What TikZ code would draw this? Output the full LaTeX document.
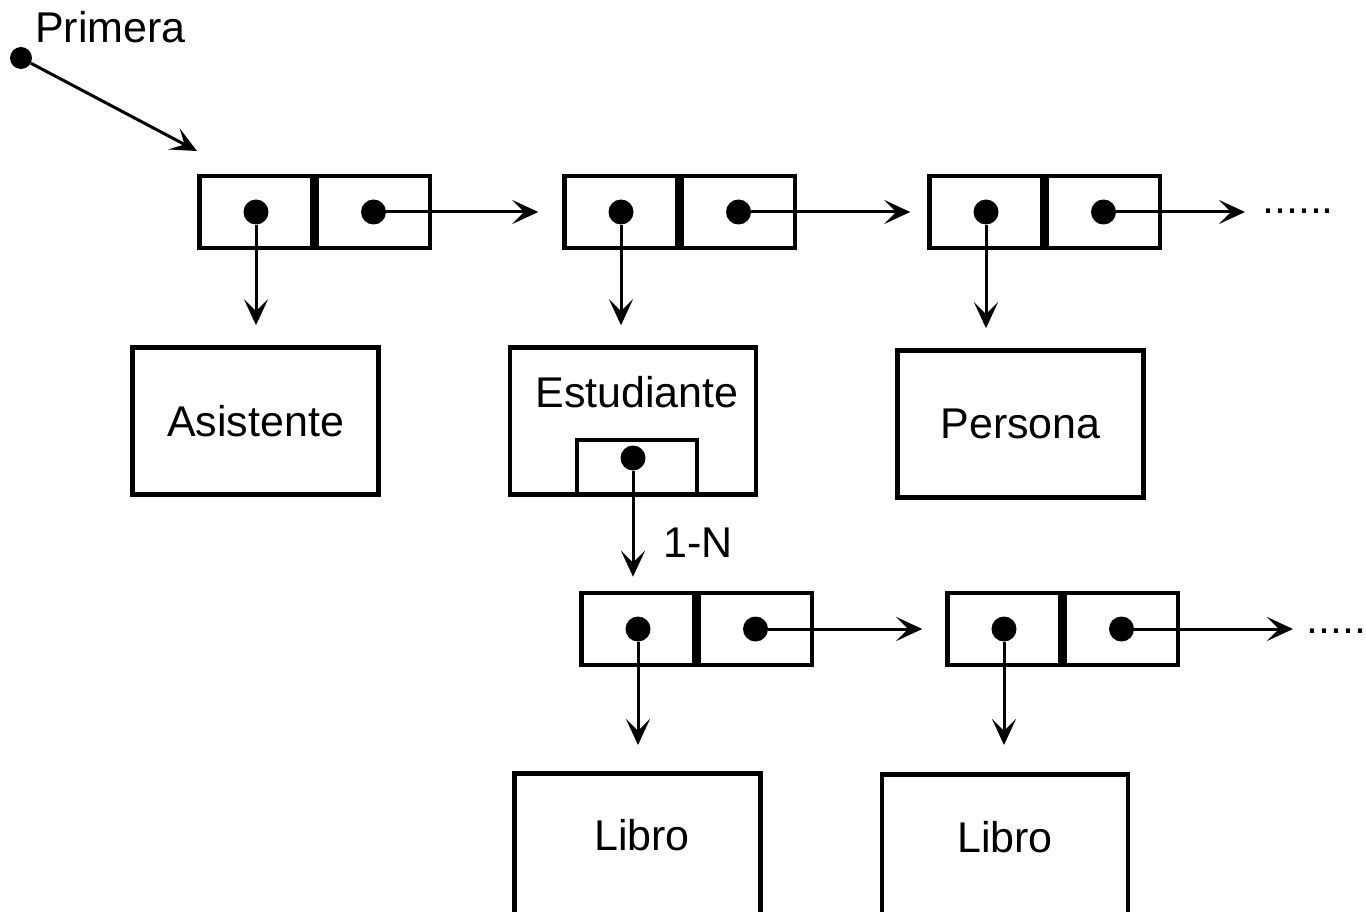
\documentclass[tikz,border=0pt]{standalone}
\usepackage{fontspec}
\setmainfont{Liberation Sans}
\usetikzlibrary{arrows.meta,positioning}

\begin{document}
\begin{tikzpicture}[x=1pt, y=-1pt,
    celda/.style={draw, line width=4.5pt, minimum width=113pt, minimum height=72pt, inner sep=0pt},
    clase/.style={draw, line width=4.5pt, minimum width=246pt, minimum height=147pt, inner sep=0pt, font=\fontsize{43}{50}\selectfont},
    punto/.style={circle, fill=black, minimum size=25pt, inner sep=0pt},
    texto/.style={font=\fontsize{43}{50}\selectfont, inner sep=0pt},
    flecha/.style={line width=3pt, -{Stealth[length=26pt, width=24pt, inset=12pt]}}]

    \useasboundingbox (0,0) rectangle (1366,912);
    \clip (0,0) rectangle (1366,912);

    % lista de asistentes
    \node[celda] (c11) at (256,212) {};
    \node[celda, right=0pt of c11] (c12) {};
    \node[celda] (c21) at (621,212) {};
    \node[celda, right=0pt of c21] (c22) {};
    \node[celda] (c31) at (986,212) {};
    \node[celda, right=0pt of c31] (c32) {};

    \node[punto] (d11) at (c11) {};
    \node[punto] (d12) at (c12) {};
    \node[punto] (d21) at (c21) {};
    \node[punto] (d22) at (c22) {};
    \node[punto] (d31) at (c31) {};
    \node[punto] (d32) at (c32) {};

    % primera
    \node[punto, minimum size=22pt] (prim) at (21,58) {};
    \node[texto, anchor=base west] (t_prim) at (35,43) {Primera};
    \coordinate (fprim) at (197,151);
    \draw[flecha] (prim) -- (fprim);

    % clases
    \node[clase] (asis) at (255.5,421) {Asistente};
    \node[clase] (estu) at (633,421) {};
    \node[texto] (t_estu) at (637,392) {Estudiante};
    \node[draw, line width=4pt, minimum width=120pt, minimum height=55pt, inner sep=0pt] (esturef) at (637,467.5) {};
    \node[punto] (dref) at (633,458) {};
    \node[clase] (pers) at (1020.5,424) {Persona};

    \draw[flecha, shorten >=24pt] (d12) -- (d12 -| c21.west);
    \draw[flecha, shorten >=17pt] (d22) -- (d22 -| c31.west);
    \coordinate (fin3) at (1245,212);
    \draw[flecha] (d32) -- (d32 -| fin3);
    \node[texto, anchor=base west] (t_sig3) at (1262,214) {......};

    \draw[flecha, shorten >=20pt] (d11) -- (d11 |- asis.north);
    \draw[flecha, shorten >=20pt] (d21) -- (d21 |- estu.north);
    \draw[flecha, shorten >=20pt] (d31) -- (d31 |- pers.north);

    % lista de libros
    \node[celda] (cA1) at (638,629) {};
    \node[celda, right=0pt of cA1] (cA2) {};
    \node[celda] (cB1) at (1004,629) {};
    \node[celda, right=0pt of cB1] (cB2) {};

    \node[punto] (dA1) at (cA1) {};
    \node[punto] (dA2) at (cA2) {};
    \node[punto] (dB1) at (cB1) {};
    \node[punto] (dB2) at (cB2) {};

    \draw[flecha, shorten >=14pt] (dref) -- (dref |- cA1.north);
    \node[texto, anchor=west] (t_rel) at (663,543) {1-N};

    \draw[flecha, shorten >=23pt] (dA2) -- (dA2 -| cB1.west);
    \coordinate (finB) at (1293,629);
    \draw[flecha] (dB2) -- (dB2 -| finB);
    \node[texto, anchor=base west] (t_sigB) at (1306,633) {.....};

    \node[clase, minimum height=200pt, anchor=north] (libro1) at (637.5,771) {};
    \node[texto] (t_libro1) at (642,835) {Libro};
    \node[clase, minimum height=200pt, anchor=north] (libro2) at (1005,772) {};
    \node[texto] (t_libro2) at (1005,837) {Libro};

    \draw[flecha, shorten >=26pt] (dA1) -- (dA1 |- libro1.north);
    \draw[flecha, shorten >=27pt] (dB1) -- (dB1 |- libro2.north);

\end{tikzpicture}
\end{document}
